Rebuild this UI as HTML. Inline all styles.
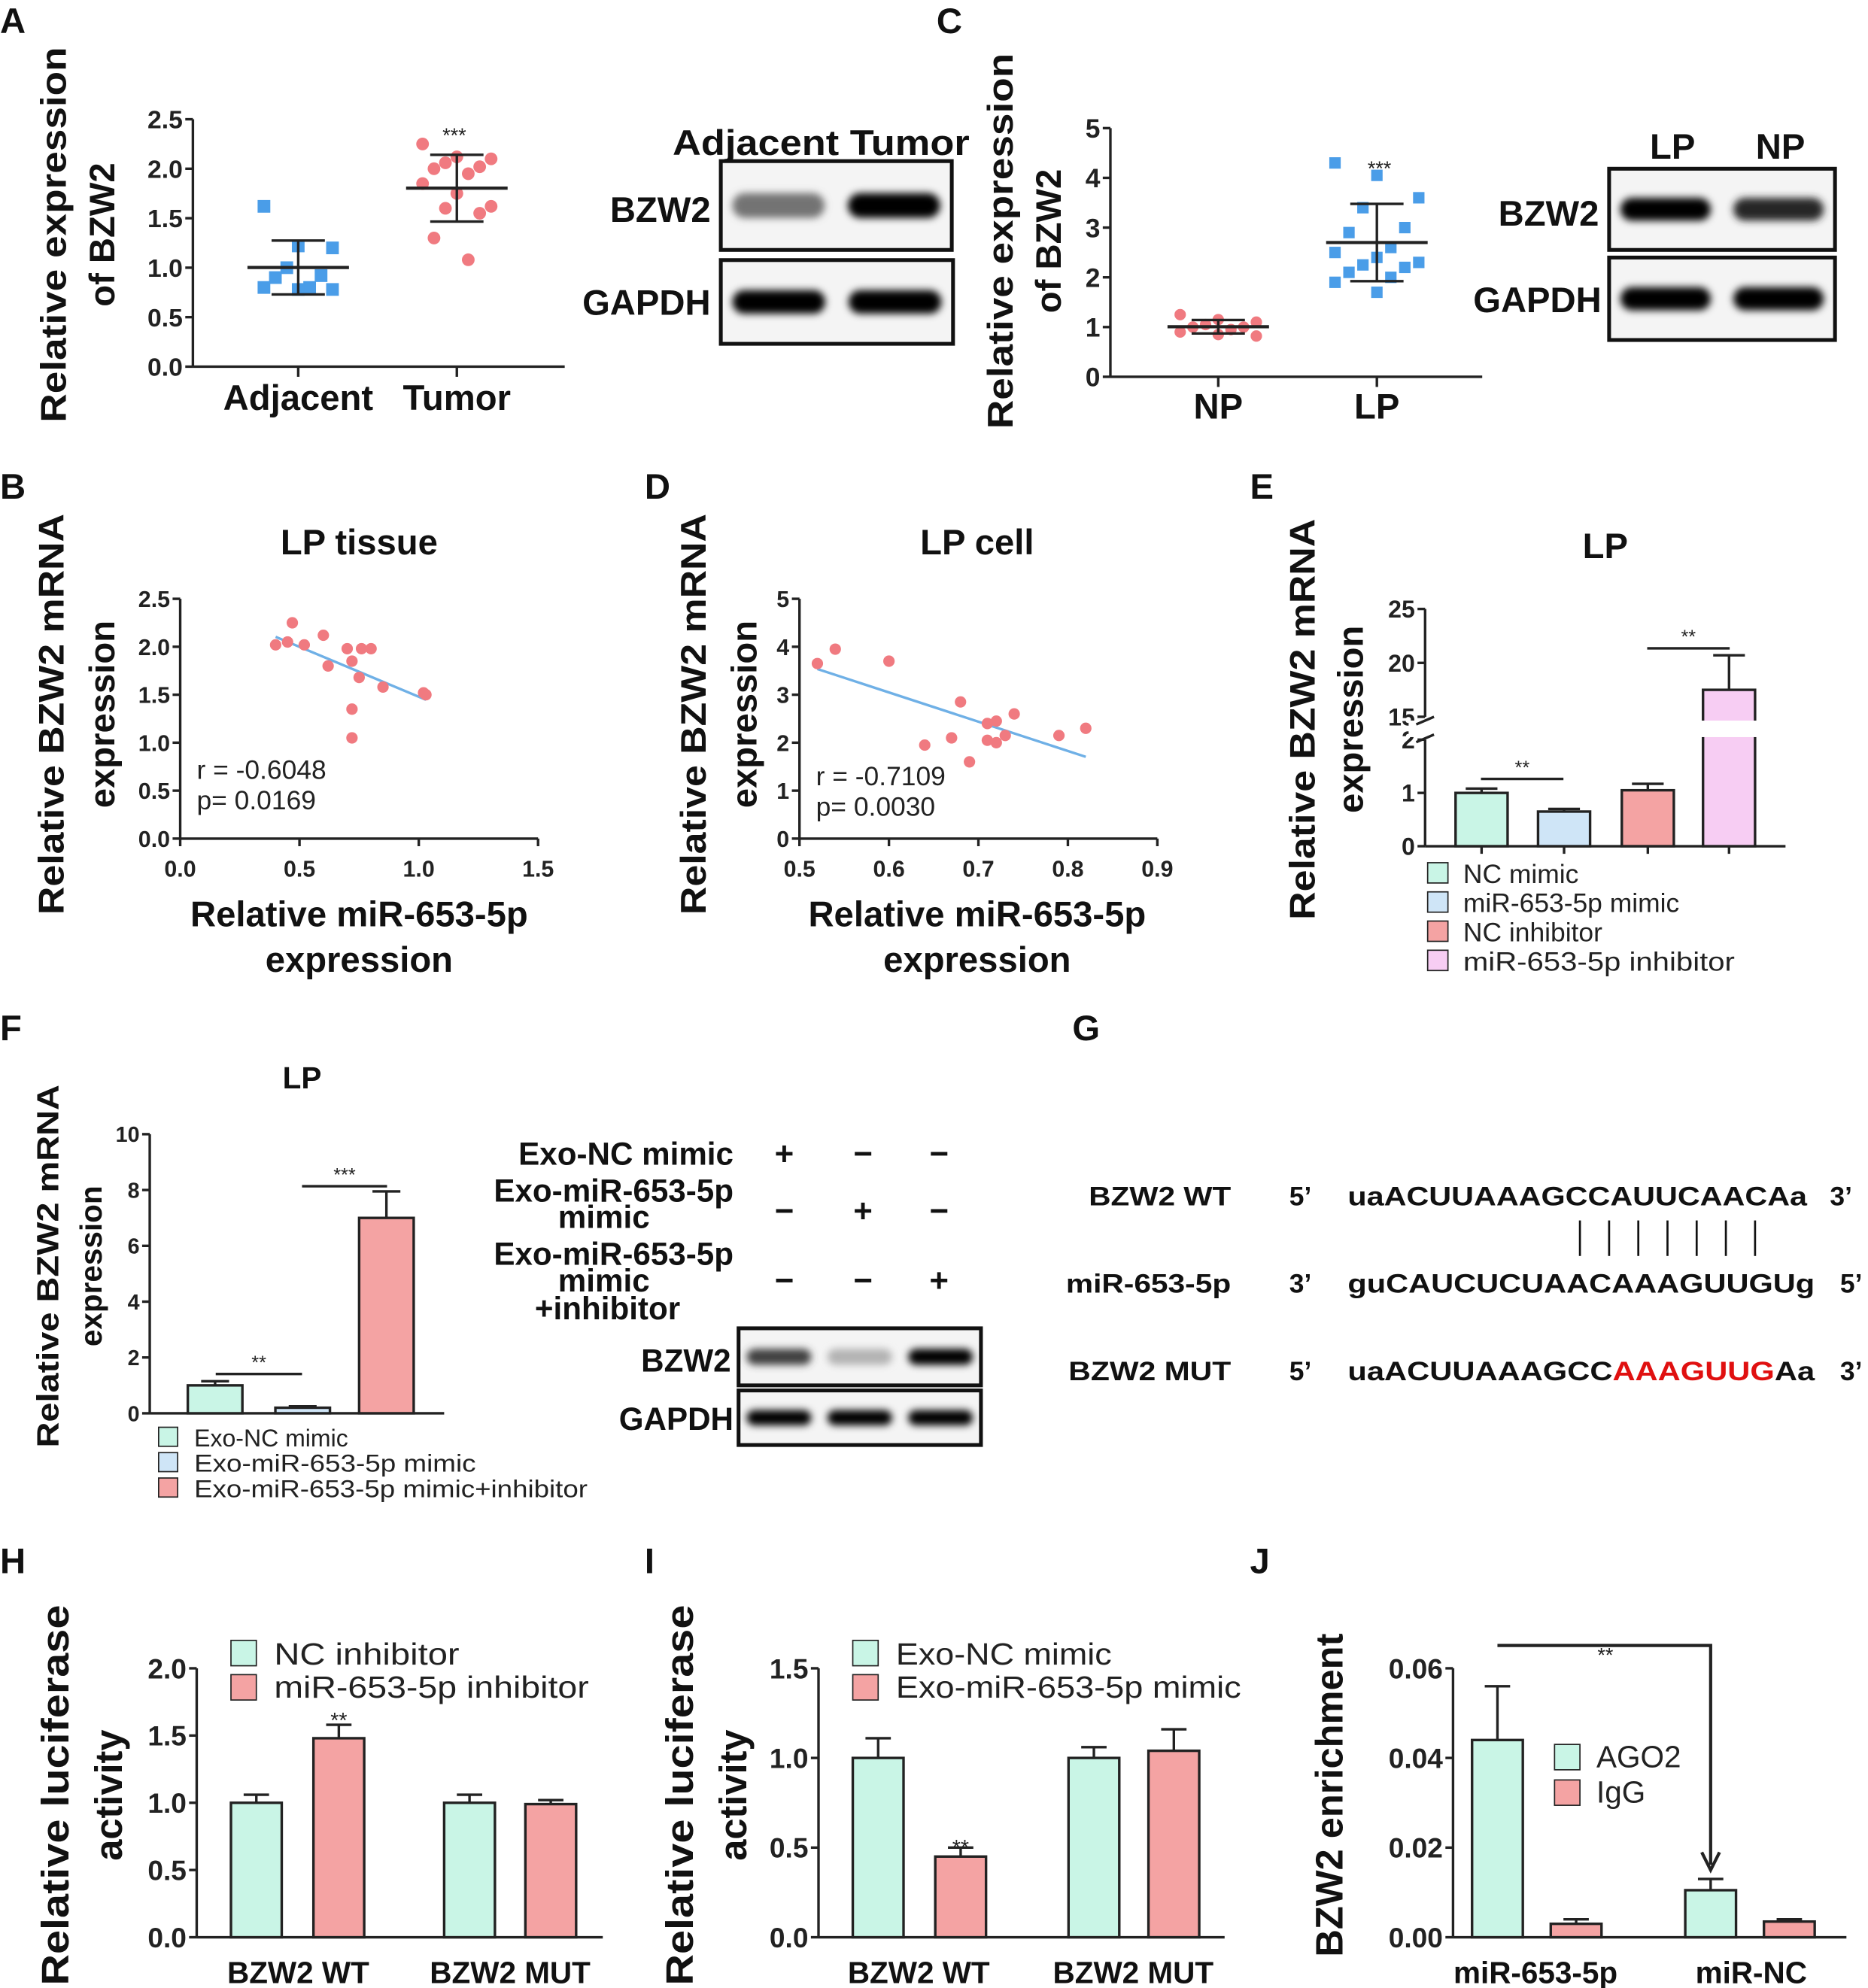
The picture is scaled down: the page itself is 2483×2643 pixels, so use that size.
<!DOCTYPE html>
<html><head><meta charset="utf-8"><style>
html,body{margin:0;padding:0;background:#fff}
svg{display:block;font-family:"Liberation Sans",Arial,sans-serif}
</style></head><body>
<svg id="fig" width="2483" height="2643" viewBox="0 0 1472 1567" preserveAspectRatio="none" xmlns="http://www.w3.org/2000/svg">
<defs><filter id="blur" x="-20%" y="-80%" width="140%" height="260%"><feGaussianBlur stdDeviation="3"/></filter></defs>
<g font-weight="bold" font-size="28" fill="#111">
<text x="0" y="26">A</text>
<text x="738" y="26">C</text>
<text x="0" y="393">B</text>
<text x="508" y="393">D</text>
<text x="985" y="393">E</text>
<text x="0" y="820">F</text>
<text x="845" y="820">G</text>
<text x="0" y="1240">H</text>
<text x="508" y="1240">I</text>
<text x="985" y="1240">J</text>
</g>
<g font-weight="bold" font-size="28" fill="#111" text-anchor="middle">
<text transform="translate(52,185) rotate(-90)" textLength="296" lengthAdjust="spacingAndGlyphs">Relative expression</text>
<text transform="translate(90,185) rotate(-90)">of BZW2</text>
<text x="235" y="323">Adjacent</text>
<text x="360" y="323">Tumor</text>
<text transform="translate(798,190) rotate(-90)" textLength="296" lengthAdjust="spacingAndGlyphs">Relative expression</text>
<text transform="translate(836,190) rotate(-90)">of BZW2</text>
<text x="960" y="330">NP</text>
<text x="1085" y="330">LP</text>
<text x="283" y="437">LP tissue</text>
<text transform="translate(50,563) rotate(-90)" textLength="316" lengthAdjust="spacingAndGlyphs">Relative BZW2 mRNA</text>
<text transform="translate(90,563) rotate(-90)">expression</text>
<text x="283" y="730">Relative miR-653-5p</text>
<text x="283" y="766">expression</text>
<text x="770" y="437">LP cell</text>
<text transform="translate(556,563) rotate(-90)" textLength="316" lengthAdjust="spacingAndGlyphs">Relative BZW2 mRNA</text>
<text transform="translate(596,563) rotate(-90)">expression</text>
<text x="770" y="730">Relative miR-653-5p</text>
<text x="770" y="766">expression</text>
<text x="1265" y="440">LP</text>
<text transform="translate(1036,567) rotate(-90)" textLength="316" lengthAdjust="spacingAndGlyphs">Relative BZW2 mRNA</text>
<text transform="translate(1074,567) rotate(-90)">expression</text>
<text x="238" y="858" font-size="24">LP</text>
<text transform="translate(46,998) rotate(-90)" font-size="24" textLength="286" lengthAdjust="spacingAndGlyphs">Relative BZW2 mRNA</text>
<text transform="translate(80,998) rotate(-90)" font-size="24">expression</text>
<text transform="translate(54,1415) rotate(-90)" font-size="30" textLength="300" lengthAdjust="spacingAndGlyphs">Relative luciferase</text>
<text transform="translate(96,1415) rotate(-90)" font-size="30">activity</text>
<text x="235" y="1563" font-size="24">BZW2 WT</text>
<text x="402" y="1563" font-size="24">BZW2 MUT</text>
<text transform="translate(546,1415) rotate(-90)" font-size="30" textLength="300" lengthAdjust="spacingAndGlyphs">Relative luciferase</text>
<text transform="translate(588,1415) rotate(-90)" font-size="30">activity</text>
<text x="724" y="1563" font-size="24">BZW2 WT</text>
<text x="893" y="1563" font-size="24">BZW2 MUT</text>
<text transform="translate(1058,1415) rotate(-90)" font-size="30">BZW2 enrichment</text>
<text x="1210" y="1563" font-size="24">miR-653-5p</text>
<text x="1380" y="1563" font-size="24">miR-NC</text>
</g>
<g font-size="21" fill="#222">
<text x="155" y="614">r = -0.6048</text>
<text x="155" y="638">p= 0.0169</text>
<text x="643" y="619">r = -0.7109</text>
<text x="643" y="643">p= 0.0030</text>
</g>
<g font-weight="bold" font-size="28" fill="#111">
<text x="530" y="122" textLength="234" lengthAdjust="spacingAndGlyphs">Adjacent Tumor</text>
<text x="560" y="175" text-anchor="end">BZW2</text>
<text x="560" y="248" text-anchor="end">GAPDH</text>
<text x="1318" y="125" text-anchor="middle">LP</text>
<text x="1403" y="125" text-anchor="middle">NP</text>
<text x="1260" y="178" text-anchor="end">BZW2</text>
<text x="1262" y="246" text-anchor="end">GAPDH</text>
</g>
<g font-weight="bold" font-size="25" fill="#111" text-anchor="end">
<text x="578" y="918">Exo-NC mimic</text>
<text x="578" y="947">Exo-miR-653-5p</text>
<text x="512" y="968">mimic</text>
<text x="578" y="997">Exo-miR-653-5p</text>
<text x="512" y="1018">mimic</text>
<text x="536" y="1040">+inhibitor</text>
<text x="576" y="1081">BZW2</text>
<text x="578" y="1127">GAPDH</text>
</g>
<g font-weight="bold" font-size="26" fill="#111" text-anchor="middle">
<text x="618" y="918">+</text><text x="680" y="918">−</text><text x="740" y="918">−</text>
<text x="618" y="963">−</text><text x="680" y="963">+</text><text x="740" y="963">−</text>
<text x="618" y="1018">−</text><text x="680" y="1018">−</text><text x="740" y="1018">+</text>
</g>
<g font-weight="bold" font-size="21" fill="#111">
<text x="970" y="950" text-anchor="end" textLength="112" lengthAdjust="spacingAndGlyphs">BZW2 WT</text><text x="1016" y="950">5’</text>
<text x="1062" y="950" textLength="362" lengthAdjust="spacingAndGlyphs">uaACUUAAAGCCAUUCAACAa</text><text x="1442" y="950">3’</text>
<text x="970" y="1019" text-anchor="end" textLength="130" lengthAdjust="spacingAndGlyphs">miR-653-5p</text><text x="1016" y="1019">3’</text>
<text x="1062" y="1019" textLength="368" lengthAdjust="spacingAndGlyphs">guCAUCUCUAACAAAGUUGUg</text><text x="1450" y="1019">5’</text>
<text x="970" y="1088" text-anchor="end" textLength="128" lengthAdjust="spacingAndGlyphs">BZW2 MUT</text><text x="1016" y="1088">5’</text>
<text x="1062" y="1088" textLength="368" lengthAdjust="spacingAndGlyphs">uaACUUAAAGCC<tspan fill="#e01010">AAAGUUG</tspan>Aa</text><text x="1450" y="1088">3’</text>
<g stroke="#111" stroke-width="1.6">
<line x1="1245" y1="962" x2="1245" y2="990"/><line x1="1268" y1="962" x2="1268" y2="990"/><line x1="1291" y1="962" x2="1291" y2="990"/><line x1="1314" y1="962" x2="1314" y2="990"/><line x1="1337" y1="962" x2="1337" y2="990"/><line x1="1360" y1="962" x2="1360" y2="990"/><line x1="1383" y1="962" x2="1383" y2="990"/>
</g></g>
<g font-size="21" fill="#222">
<rect x="1125" y="680" width="16" height="16" fill="#c9f5e6" stroke="#222"/><text x="1153" y="696">NC mimic</text>
<rect x="1125" y="703" width="16" height="16" fill="#cfe5f7" stroke="#222"/><text x="1153" y="719">miR-653-5p mimic</text>
<rect x="1125" y="726" width="16" height="16" fill="#f4a3a3" stroke="#222"/><text x="1153" y="742">NC inhibitor</text>
<rect x="1125" y="749" width="16" height="16" fill="#f7cdf3" stroke="#222"/><text x="1153" y="765" textLength="214" lengthAdjust="spacingAndGlyphs">miR-653-5p inhibitor</text>
</g>
<g font-size="19" fill="#222">
<rect x="125" y="1125" width="15" height="15" fill="#c9f5e6" stroke="#222"/><text x="153" y="1140">Exo-NC mimic</text>
<rect x="125" y="1145" width="15" height="15" fill="#cfe5f7" stroke="#222"/><text x="153" y="1160" textLength="222" lengthAdjust="spacingAndGlyphs">Exo-miR-653-5p mimic</text>
<rect x="125" y="1165" width="15" height="15" fill="#f4a3a3" stroke="#222"/><text x="153" y="1180" textLength="310" lengthAdjust="spacingAndGlyphs">Exo-miR-653-5p mimic+inhibitor</text>
</g>
<g font-size="24" fill="#222">
<rect x="182" y="1293" width="20" height="20" fill="#c9f5e6" stroke="#222"/><text x="216" y="1312" textLength="146" lengthAdjust="spacingAndGlyphs">NC  inhibitor</text>
<rect x="182" y="1320" width="20" height="20" fill="#f4a3a3" stroke="#222"/><text x="216" y="1338" textLength="248" lengthAdjust="spacingAndGlyphs">miR-653-5p  inhibitor</text>
<rect x="672" y="1293" width="20" height="20" fill="#c9f5e6" stroke="#222"/><text x="706" y="1312" textLength="170" lengthAdjust="spacingAndGlyphs">Exo-NC mimic</text>
<rect x="672" y="1320" width="20" height="20" fill="#f4a3a3" stroke="#222"/><text x="706" y="1338" textLength="272" lengthAdjust="spacingAndGlyphs">Exo-miR-653-5p mimic</text>
<rect x="1225" y="1375" width="20" height="20" fill="#c9f5e6" stroke="#222"/><text x="1258" y="1393">AGO2</text>
<rect x="1225" y="1403" width="20" height="20" fill="#f4a3a3" stroke="#222"/><text x="1258" y="1421">IgG</text>
</g>
<g id="dyn"></g>
</svg>
<script>
// ---- data ----
const aAdjacent=[1.62,1.22,1.2,1.0,0.92,0.9,0.8,0.8,0.78,0.78];
const aTumor=[2.25,2.12,2.1,2.06,2.02,2.0,1.95,1.85,1.75,1.62,1.6,1.55,1.3,1.08];
const aTicks=[0,0.5,1.0,1.5,2.0,2.5];
const cNP=[1.25,1.15,1.1,1.05,1.0,1.0,0.95,0.9,0.85,0.82];
const cLP=[4.3,4.05,3.6,3.4,3.0,2.9,2.6,2.5,2.4,2.3,2.25,2.2,2.1,2.0,1.9,1.7];
const cTicks=[0,1,2,3,4,5];
const bX=[0.4,0.45,0.47,0.52,0.6,0.62,0.7,0.72,0.75,0.8,0.85,0.72,0.72,1.02,1.03,0.76];
const bY=[2.02,2.05,2.25,2.02,2.12,1.8,1.98,1.85,1.68,1.98,1.58,1.35,1.05,1.52,1.5,1.98];
const bXTicks=[0,0.5,1.0,1.5];
const bYTicks=[0,0.5,1.0,1.5,2.0,2.5];
const dX=[0.52,0.54,0.6,0.68,0.67,0.64,0.69,0.71,0.72,0.73,0.72,0.74,0.71,0.79,0.82];
const dY=[3.65,3.95,3.7,2.85,2.1,1.95,1.6,2.4,2.45,2.15,2.0,2.6,2.05,2.15,2.3];
const dXTicks=[0.5,0.6,0.7,0.8,0.9];
const dYTicks=[0,1,2,3,4,5];
const eVals=[1.0,0.65,1.05,17.5];
const eErr=[0.08,0.05,0.12,3.2];
const eLowTicks=[0,1,2];
const eHighTicks=[15,20,25];
const fVals=[1.0,0.2,7.0];
const fErr=[0.15,0.05,0.95];
const fTicks=[0,2,4,6,8,10];
const hCtrl=[1.0,1.0], hTreat=[1.48,0.99], hCtrlErr=[0.06,0.06], hTreatErr=[0.1,0.03];
const hTicks=[0,0.5,1.0,1.5,2.0];
const iCtrl=[1.0,1.0], iTreat=[0.45,1.04], iCtrlErr=[0.11,0.06], iTreatErr=[0.05,0.12];
const iTicks=[0,0.5,1.0,1.5];
const jAgo=[0.044,0.0105], jIgg=[0.003,0.0035], jAgoErr=[0.012,0.0025], jIggErr=[0.001,0.0005];
const jTicks=[0,0.02,0.04,0.06];
const jTickLabels=["0.00","0.02","0.04","0.06"];
const blotA=[[0.55,1.0],[1.0,1.0]];
const blotC=[[1.0,0.85],[1.0,1.0]];
const blotF=[[0.75,0.3,1.0],[1.0,1.0,1.0]];

const NS="http://www.w3.org/2000/svg";
const root=document.getElementById('dyn');
function mk(tag,attrs,parent){const e=document.createElementNS(NS,tag);for(const k in attrs)e.setAttribute(k,attrs[k]);(parent||root).appendChild(e);return e;}
function lin(d0,d1,r0,r1){return v=>r0+(v-d0)*(r1-r0)/(d1-d0);}
const TEAL="#c9f5e6",BLUE="#cfe5f7",SAL="#f4a3a3",PINK="#f7cdf3",DOTR="#f07a80",DOTB="#4a9de8";

function yAxis(x,y,ticks,labels,fs,name){
  const g=mk('g',{});
  
  
  mk('line',{x1:x,x2:x,y1:y(ticks[0]),y2:y(ticks[ticks.length-1]),stroke:'#222','stroke-width':2},g);
  ticks.forEach((t,i)=>{mk('line',{x1:x-6,x2:x,y1:y(t),y2:y(t),stroke:'#222','stroke-width':2},g);
    const tx=mk('text',{x:x-8,y:y(t)+fs*0.36,'text-anchor':'end','font-size':fs,'font-weight':'bold',fill:'#222'},g);tx.textContent=labels?labels[i]:String(t);});
  return g;
}
function xLine(x1,x2,y,name){const l=mk('line',{x1:x1,x2:x2,y1:y,y2:y,stroke:'#222','stroke-width':2});
  
  }
function fmt1(v){return v.toFixed(1);}
function mean(a){return a.reduce((s,v)=>s+v,0)/a.length;}
function sd(a){const m=mean(a);return Math.sqrt(a.reduce((s,v)=>s+(v-m)*(v-m),0)/(a.length-1));}

function dotPlot(vals,cx,y,color,sq,name,sz,spread){
  vals.forEach((v,i)=>{const jx=((i*3)%7-3)*spread;let m;
    if(sq)m=mk('rect',{x:cx+jx-sz,y:y(v)-sz,width:2*sz,height:2*sz,fill:color});else m=mk('circle',{cx:cx+jx,cy:y(v),r:sz,fill:color});
    
    });
  const m=mean(vals),s=sd(vals);
  mk('line',{x1:cx-40,x2:cx+40,y1:y(m),y2:y(m),stroke:'#222','stroke-width':2.5});
  mk('line',{x1:cx,x2:cx,y1:y(m+s),y2:y(m-s),stroke:'#222','stroke-width':2});
  [m+s,m-s].forEach(v=>mk('line',{x1:cx-21,x2:cx+21,y1:y(v),y2:y(v),stroke:'#222','stroke-width':2}));
}
// ---- Panel A ----
{const y=lin(0,2.5,289,94);yAxis(152,y,aTicks,aTicks.map(fmt1),20,'a-y-axis');xLine(152,445,289,'a-x-axis');
 [235,360].forEach(cx=>mk('line',{x1:cx,x2:cx,y1:289,y2:297,stroke:'#222','stroke-width':2}));
 dotPlot(aAdjacent,235,y,DOTB,true,'a-adjacent-point',5,9);dotPlot(aTumor,360,y,DOTR,false,'a-tumor-point',5,9);
 const st=mk('text',{x:358,y:112,'text-anchor':'middle','font-size':16,fill:'#222'});st.textContent='***';
}
// ---- Panel C ----
{const y=lin(0,5,297,101);yAxis(875,y,cTicks,null,21,'c-y-axis');xLine(875,1168,297,'c-x-axis');
 [960,1085].forEach(cx=>mk('line',{x1:cx,x2:cx,y1:297,y2:305,stroke:'#222','stroke-width':2}));
 dotPlot(cNP,960,y,DOTR,false,'c-np-point',4.5,10);dotPlot(cLP,1085,y,DOTB,true,'c-lp-point',4.5,11);
 const st=mk('text',{x:1087,y:138,'text-anchor':'middle','font-size':16,fill:'#222'});st.textContent='***';
}
// ---- scatter panels ----
function scatter(xs,ys,xT,yT,x,y,x0,y0,xlab,ylab,name){
  yAxis(x0,y,yT,ylab,18,name+'-y-axis');
  const g=mk('g',{});
  mk('line',{x1:x(xT[0]),x2:x(xT[xT.length-1]),y1:y0,y2:y0,stroke:'#222','stroke-width':2},g);
  xT.forEach((t,i)=>{mk('line',{x1:x(t),x2:x(t),y1:y0,y2:y0+6,stroke:'#222','stroke-width':2},g);
    const tx=mk('text',{x:x(t),y:y0+30,'text-anchor':'middle','font-size':18,'font-weight':'bold',fill:'#222'},g);tx.textContent=xlab[i];});
  const mx=mean(xs),my=mean(ys);let sxy=0,sxx=0;xs.forEach((v,i)=>{sxy+=(v-mx)*(ys[i]-my);sxx+=(v-mx)*(v-mx);});
  const b=sxy/sxx,a=my-b*mx;const lo=Math.min(...xs),hi=Math.max(...xs);
  const l=mk('line',{x1:x(lo),y1:y(a+b*lo),x2:x(hi),y2:y(a+b*hi),stroke:'#6fb0e6','stroke-width':2});
  
  xs.forEach((v,i)=>{const c=mk('circle',{cx:x(v),cy:y(ys[i]),r:4.5,fill:DOTR});
    
    });
}
scatter(bX,bY,bXTicks,bYTicks,lin(0,1.5,142,424),lin(0,2.5,661,472),142,661,bXTicks.map(fmt1),bYTicks.map(fmt1),'b');
scatter(dX,dY,dXTicks,dYTicks,lin(0.5,0.9,630,912),lin(0,5,661,472),630,661,dXTicks.map(fmt1),dYTicks.map(String),'d');

function bar(x,w,y,v,fill,name){const r=mk('rect',{x:x,y:Math.min(y(v),y(0)),width:w,height:Math.abs(y(0)-y(v)),fill:fill,stroke:'#222','stroke-width':2});
  return r;}
function err(cx,y,v,e,hw){mk('line',{x1:cx,x2:cx,y1:y(v),y2:y(v+e),stroke:'#222','stroke-width':2});mk('line',{x1:cx-hw,x2:cx+hw,y1:y(v+e),y2:y(v+e),stroke:'#222','stroke-width':2});}
function sig(x1,x2,yy,txt){mk('line',{x1:x1,x2:x2,y1:yy,y2:yy,stroke:'#222','stroke-width':2});const t=mk('text',{x:(x1+x2)/2,y:yy-4,'text-anchor':'middle','font-size':15,fill:'#222'});t.textContent=txt;}

// ---- Panel E ----
{const yl=lin(0,2,667,583),yh=lin(15,25,565,480);
 const y=v=>v<=2?yl(v):(v>=15?yh(v):583);
 yAxis(1123,yl,eLowTicks,null,19,'e-y-axis-lower');yAxis(1123,yh,eHighTicks,null,19,'e-y-axis-upper');
 xLine(1123,1407,667,'e-x-axis');
 const xs=[1147,1212,1278,1342],fills=[TEAL,BLUE,SAL,PINK],names=['e-bar-nc-mimic','e-bar-mir-mimic','e-bar-nc-inhibitor','e-bar-mir-inhibitor'];
 eVals.forEach((v,i)=>{bar(xs[i],41,y,v,fills[i],names[i]);
   const top=y(v+eErr[i]);mk('line',{x1:xs[i]+20.5,x2:xs[i]+20.5,y1:y(v),y2:top,stroke:'#222','stroke-width':2});mk('line',{x1:xs[i]+8,x2:xs[i]+33,y1:top,y2:top,stroke:'#222','stroke-width':2});
   mk('line',{x1:xs[i]+20.5,x2:xs[i]+20.5,y1:667,y2:673,stroke:'#222','stroke-width':2});});
 mk('rect',{x:1110,y:568,width:290,height:13,fill:'#fff'});
 mk('line',{x1:1116,x2:1130,y1:571,y2:565,stroke:'#222','stroke-width':2});mk('line',{x1:1116,x2:1130,y1:585,y2:579,stroke:'#222','stroke-width':2});
 sig(1167,1232,614,'**');sig(1298,1363,511,'**');
}
// ---- Panel F ----
{const y=lin(0,10,1114,894);yAxis(118,y,fTicks,null,17,'f-y-axis');xLine(118,350,1114,'f-x-axis');
 const xs=[148,217,283],fills=[TEAL,BLUE,SAL],names=['f-bar-exo-nc','f-bar-exo-mir-mimic','f-bar-exo-mir-inhibitor'];
 fVals.forEach((v,i)=>{bar(xs[i],43,y,v,fills[i],names[i]);err(xs[i]+21.5,y,v,fErr[i],11);});
 sig(170,238,1083,'**');sig(238,305,935,'***');
}
function grouped(ctrl,treat,ce,te,y,x0,xend,ticks,labels,xs,name,fs){
  yAxis(x0,y,ticks,labels,fs,name+'-y-axis');xLine(x0,xend,y(0),name+'-x-axis');
  ctrl.forEach((v,i)=>{bar(xs[i][0],40,y,v,TEAL,name+'-bar-control');err(xs[i][0]+20,y,v,ce[i],10);
    bar(xs[i][1],40,y,treat[i],SAL,name+'-bar-treatment');err(xs[i][1]+20,y,treat[i],te[i],10);});
}
grouped(hCtrl,hTreat,hCtrlErr,hTreatErr,lin(0,2,1527,1315),155,475,hTicks,hTicks.map(fmt1),[[182,247],[350,414]],'h',22);
{const t=mk('text',{x:267,y:1362,'text-anchor':'middle','font-size':17,fill:'#222'});t.textContent='**';}
grouped(iCtrl,iTreat,iCtrlErr,iTreatErr,lin(0,1.5,1527,1315),645,965,iTicks,iTicks.map(fmt1),[[672,737],[842,905]],'i',22);
{const t=mk('text',{x:757,y:1462,'text-anchor':'middle','font-size':17,fill:'#222'});t.textContent='**';}
{const y=lin(0,0.06,1527,1315);
 grouped(jAgo,jIgg,jAgoErr,jIggErr,y,1145,1455,jTicks,jTickLabels,[[1160,1222],[1328,1390]],'j',22);
 mk('path',{d:'M1180 1297 H1348 V1470',fill:'none',stroke:'#222','stroke-width':2.5});
 mk('path',{d:'M1341 1460 L1348 1474 L1355 1460',fill:'none',stroke:'#222','stroke-width':2.5});
 const t=mk('text',{x:1265,y:1310,'text-anchor':'middle','font-size':16,fill:'#222'});t.textContent='**';}

function blot(x,yTop,w,h,lanes,inten,name){
  const g=mk('g',{});
  mk('rect',{x:x,y:yTop,width:w,height:h,fill:'#f4f4f4',stroke:'#111','stroke-width':3},g);
  const lw=w/lanes;
  inten.forEach((v,i)=>{const c=Math.round(255*(1-v));const bh=h*0.28;
    mk('rect',{x:x+lw*i+lw*0.1,y:yTop+h/2-bh/2,width:lw*0.8,height:bh,rx:bh/2,fill:`rgb(${c},${c},${c})`,filter:'url(#blur)'},g);});
}
blot(568,127,182,70,2,blotA[0],'blot-a-bzw2-band');blot(568,205,183,66,2,blotA[1],'blot-a-gapdh-band');
blot(1268,133,178,64,2,blotC[0],'blot-c-bzw2-band');blot(1268,203,178,65,2,blotC[1],'blot-c-gapdh-band');
blot(582,1047,191,45,3,blotF[0],'blot-f-bzw2-band');blot(582,1096,191,43,3,blotF[1],'blot-f-gapdh-band');
</script>
</body></html>
